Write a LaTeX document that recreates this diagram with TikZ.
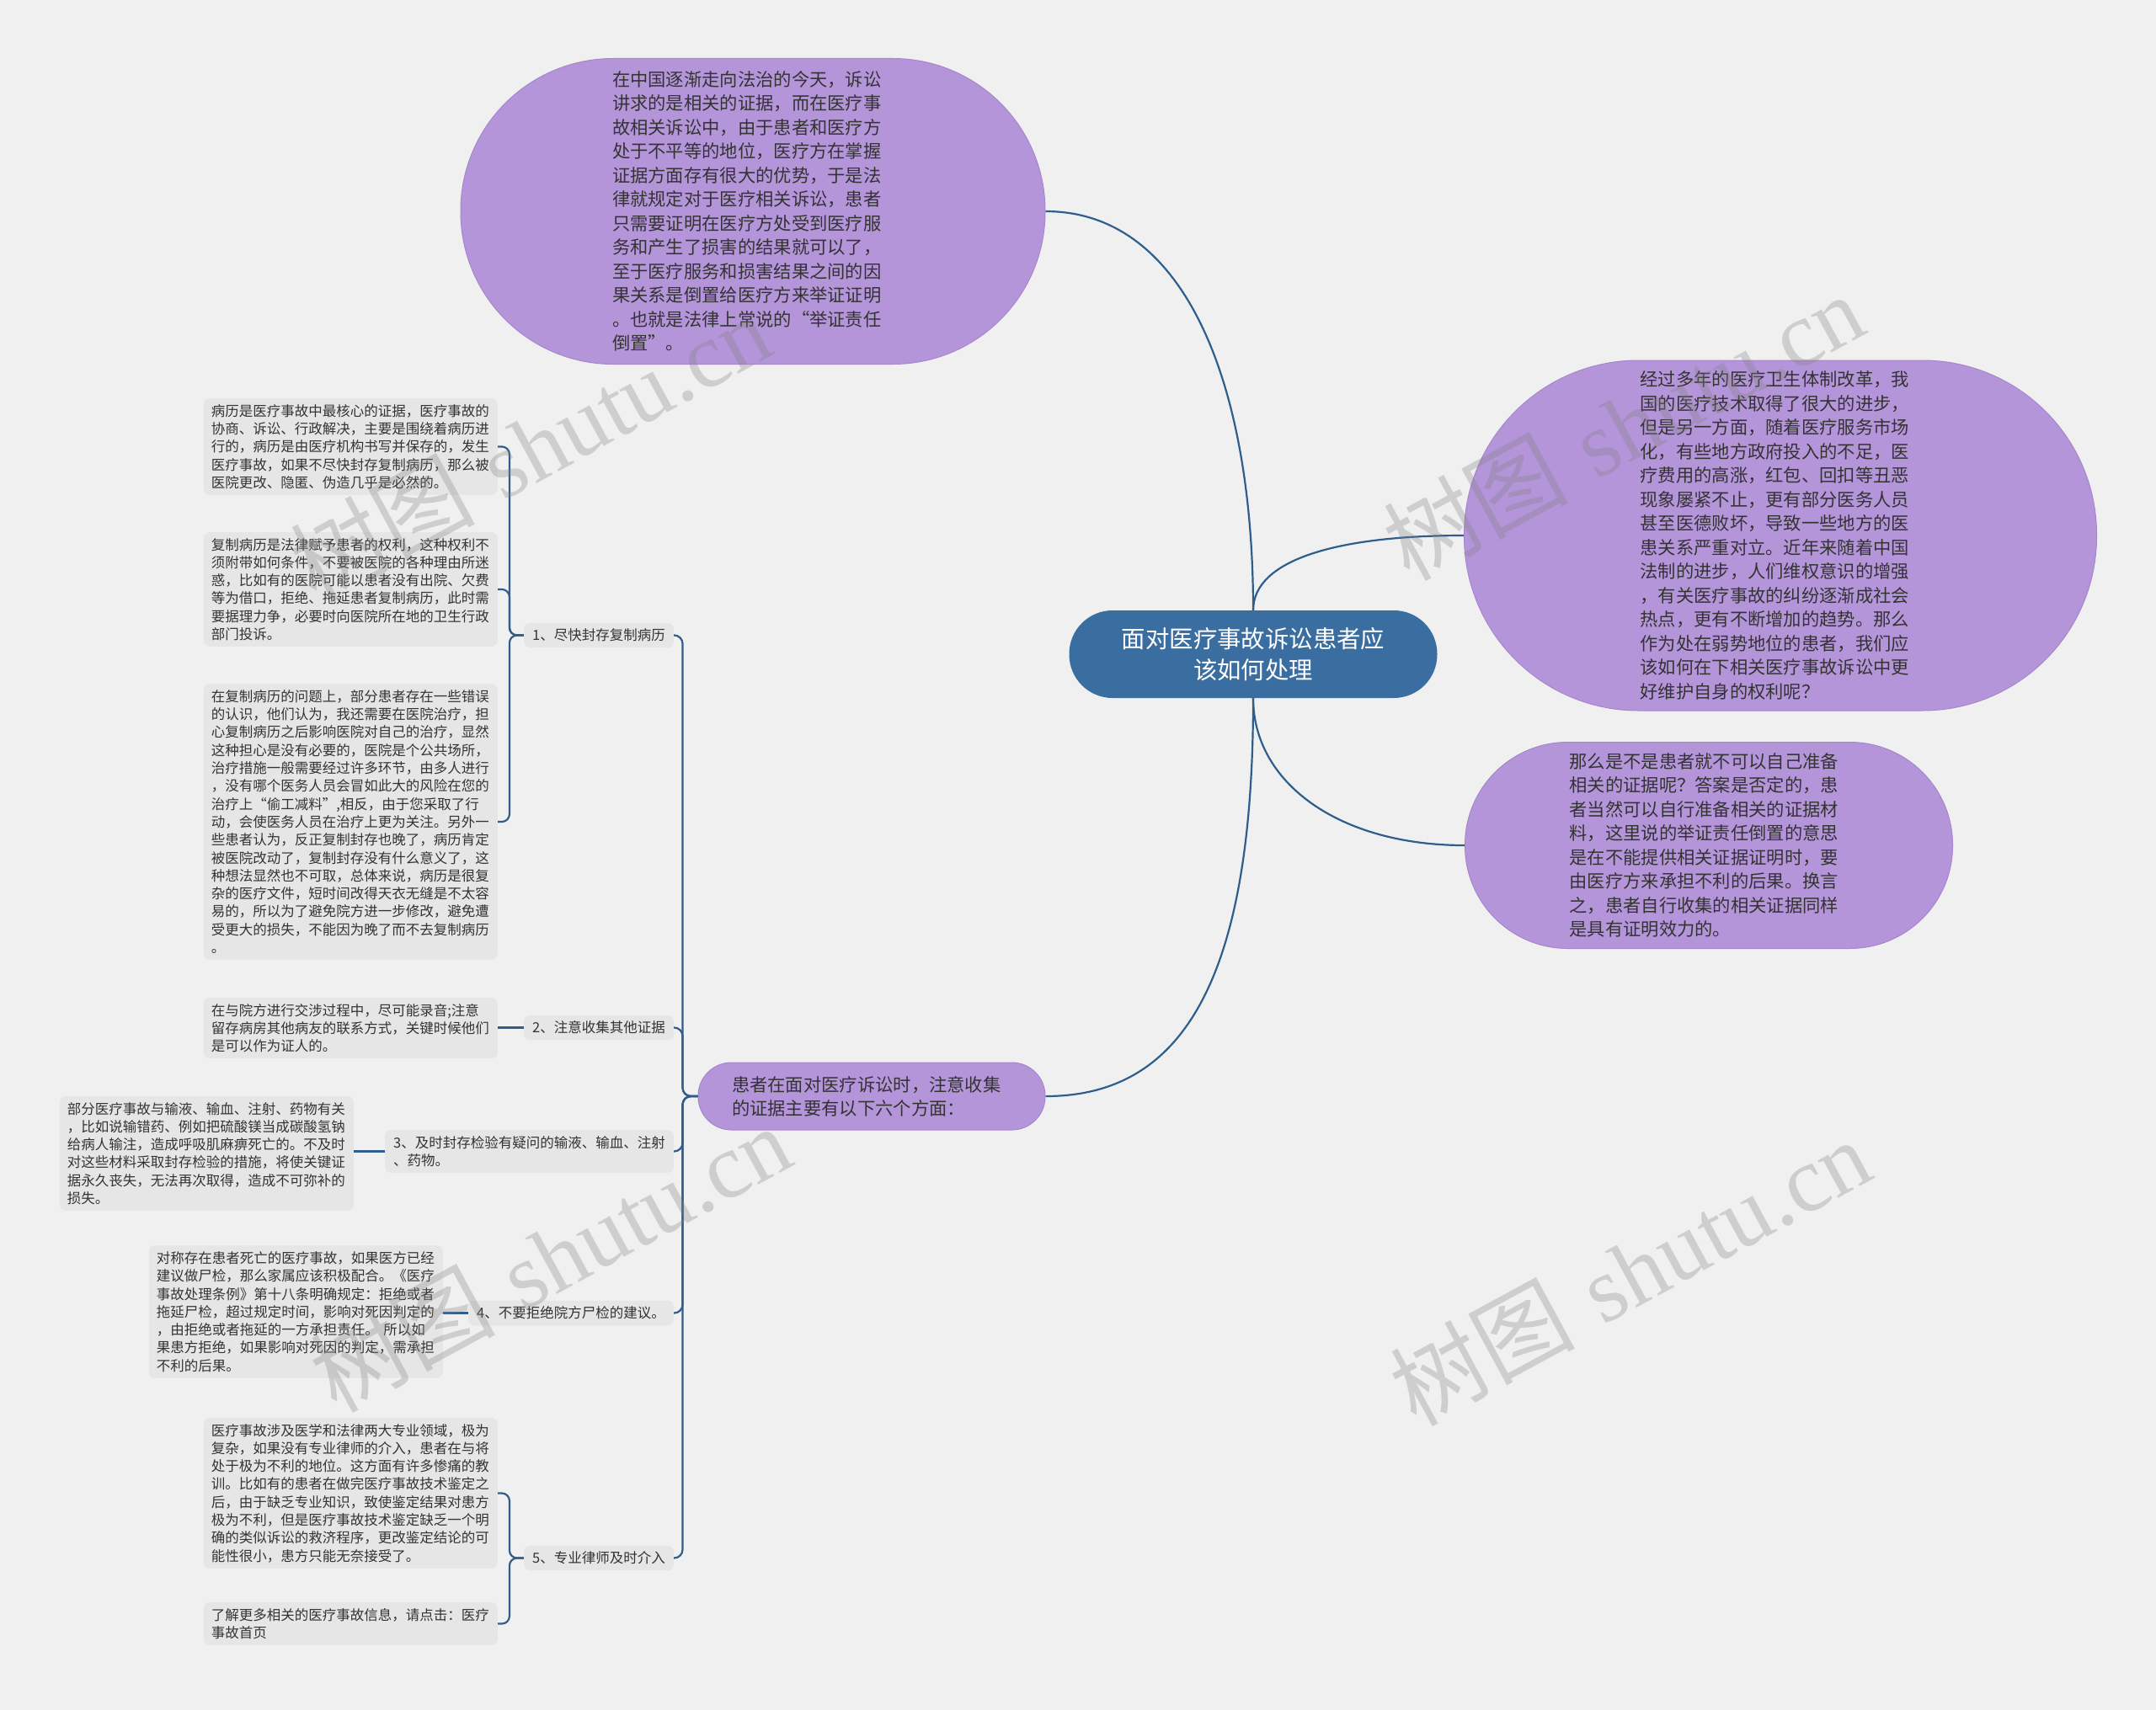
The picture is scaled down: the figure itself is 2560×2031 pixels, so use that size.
\documentclass[tikz,border=0pt]{standalone}
\usepackage{fontspec}
\newfontfamily\cjk{Noto Sans CJK SC}
\newfontfamily\wmserif{Liberation Serif}
\definecolor{bgc}{HTML}{F0F0F0}
\definecolor{purp}{HTML}{B595D9}
\definecolor{purpline}{HTML}{A787CC}
\definecolor{cblue}{HTML}{3B6EA0}
\definecolor{conn}{HTML}{2F5E8C}
\definecolor{leaff}{HTML}{E6E6E6}
\definecolor{txt}{HTML}{333333}
\tikzset{
  bubble/.style={draw=purpline, line width=1pt, fill=purp, align=left, text=txt,
    font=\cjk\fontsize{21.3}{28.5}\selectfont, inner ysep=0pt},
  centerbox/.style={fill=cblue, align=center, text=white,
    font=\cjk\fontsize{28.4}{37}\selectfont, inner sep=0pt,
    minimum width=437pt, minimum height=104pt, rounded corners=51.5pt},
  leaf/.style={fill=leaff, rounded corners=7pt, align=left, text width=331pt,
    inner xsep=9pt, inner ysep=7pt, text=txt,
    font=\cjk\fontsize{16.5}{21.3}\selectfont, anchor=east},
  subbox/.style={fill=leaff, rounded corners=7pt, align=left,
    inner xsep=10pt, inner ysep=7pt, text=txt,
    font=\cjk\fontsize{16.5}{21.3}\selectfont, anchor=east},
  conn/.style={draw=conn, line width=2.2pt},
  wm/.style={text=black!50, text opacity=0.3, inner sep=0pt,
    font=\fontsize{110}{110}\selectfont}
}
\begin{document}
\begin{tikzpicture}[x=1pt,y=-1pt]
\useasboundingbox (0,0) rectangle (2560,2031);
\fill[bgc] (0,0) rectangle (2560,2031);

% central node
\node[centerbox] (c) at (1488,777) {面对医疗事故诉讼患者应\\该如何处理};

% top bubble
\node[bubble, inner xsep=180pt, text width=334pt, minimum height=363pt, rounded corners=181pt] (t) at (894,251) {%
在中国逐渐走向法治的今天，诉讼\\
讲求的是相关的证据，而在医疗事\\
故相关诉讼中，由于患者和医疗方\\
处于不平等的地位，医疗方在掌握\\
证据方面存有很大的优势，于是法\\
律就规定对于医疗相关诉讼，患者\\
只需要证明在医疗方处受到医疗服\\
务和产生了损害的结果就可以了，\\
至于医疗服务和损害结果之间的因\\
果关系是倒置给医疗方来举证证明\\
。也就是法律上常说的“举证责任\\
倒置”。};

% right bubble 1
\node[bubble, inner xsep=209pt, text width=333pt, minimum height=416pt, rounded corners=207pt] (b1) at (2114,636) {%
经过多年的医疗卫生体制改革，我\\
国的医疗技术取得了很大的进步，\\
但是另一方面，随着医疗服务市场\\
化，有些地方政府投入的不足，医\\
疗费用的高涨，红包、回扣等丑恶\\
现象屡紧不止，更有部分医务人员\\
甚至医德败坏，导致一些地方的医\\
患关系严重对立。近年来随着中国\\
法制的进步，人们维权意识的增强\\
，有关医疗事故的纠纷逐渐成社会\\
热点，更有不断增加的趋势。那么\\
作为处在弱势地位的患者，我们应\\
该如何在下相关医疗事故诉讼中更\\
好维护自身的权利呢？};

% right bubble 2
\node[bubble, inner xsep=124pt, text width=331pt, minimum height=245pt, rounded corners=122pt] (b2) at (2029,1004) {%
那么是不是患者就不可以自己准备\\
相关的证据呢？答案是否定的，患\\
者当然可以自行准备相关的证据材\\
料，这里说的举证责任倒置的意思\\
是在不能提供相关证据证明时，要\\
由医疗方来承担不利的后果。换言\\
之，患者自行收集的相关证据同样\\
是具有证明效力的。};

% left branch node
\node[bubble, inner xsep=40pt, text width=332pt, minimum height=80pt, rounded corners=39.5pt,
  font=\cjk\fontsize{21.3}{27.8}\selectfont] (L) at (1035,1302) {%
患者在面对医疗诉讼时，注意收集\\
的证据主要有以下六个方面：};

% sub nodes
\node[subbox] (s1) at (800,754.5) {1、尽快封存复制病历};
\node[subbox] (s2) at (800,1220.5) {2、注意收集其他证据};
\node[subbox] (s3) at (800,1367.5) {3、及时封存检验有疑问的输液、输血、注射\\、药物。};
\node[subbox] (s4) at (800,1559.5) {4、不要拒绝院方尸检的建议。};
\node[subbox] (s5) at (800,1850.5) {5、专业律师及时介入};

% leaves
\node[leaf] (l1a) at (591,530.5) {%
病历是医疗事故中最核心的证据，医疗事故的\\
协商、诉讼、行政解决，主要是围绕着病历进\\
行的，病历是由医疗机构书写并保存的，发生\\
医疗事故，如果不尽快封存复制病历，那么被\\
医院更改、隐匿、伪造几乎是必然的。};
\node[leaf] (l1b) at (591,700) {%
复制病历是法律赋予患者的权利，这种权利不\\
须附带如何条件，不要被医院的各种理由所迷\\
惑，比如有的医院可能以患者没有出院、欠费\\
等为借口，拒绝、拖延患者复制病历，此时需\\
要据理力争，必要时向医院所在地的卫生行政\\
部门投诉。};
\node[leaf] (l1c) at (591,976) {%
在复制病历的问题上，部分患者存在一些错误\\
的认识，他们认为，我还需要在医院治疗，担\\
心复制病历之后影响医院对自己的治疗，显然\\
这种担心是没有必要的，医院是个公共场所，\\
治疗措施一般需要经过许多环节，由多人进行\\
，没有哪个医务人员会冒如此大的风险在您的\\
治疗上“偷工减料”,相反，由于您采取了行\\
动，会使医务人员在治疗上更为关注。另外一\\
些患者认为，反正复制封存也晚了，病历肯定\\
被医院改动了，复制封存没有什么意义了，这\\
种想法显然也不可取，总体来说，病历是很复\\
杂的医疗文件，短时间改得天衣无缝是不太容\\
易的，所以为了避免院方进一步修改，避免遭\\
受更大的损失，不能因为晚了而不去复制病历\\
。};
\node[leaf] (l2a) at (591,1221) {%
在与院方进行交涉过程中，尽可能录音;注意\\
留存病房其他病友的联系方式，关键时候他们\\
是可以作为证人的。};
\node[leaf] (l3a) at (420,1370) {%
部分医疗事故与输液、输血、注射、药物有关\\
，比如说输错药、例如把硫酸镁当成碳酸氢钠\\
给病人输注，造成呼吸肌麻痹死亡的。不及时\\
对这些材料采取封存检验的措施，将使关键证\\
据永久丧失，无法再次取得，造成不可弥补的\\
损失。};
\node[leaf] (l4a) at (526,1558) {%
对称存在患者死亡的医疗事故，如果医方已经\\
建议做尸检，那么家属应该积极配合。《医疗\\
事故处理条例》第十八条明确规定：拒绝或者\\
拖延尸检，超过规定时间，影响对死因判定的\\
，由拒绝或者拖延的一方承担责任。 所以如\\
果患方拒绝，如果影响对死因的判定，需承担\\
不利的后果。};
\node[leaf] (l5a) at (591,1773.5) {%
医疗事故涉及医学和法律两大专业领域，极为\\
复杂，如果没有专业律师的介入，患者在与将\\
处于极为不利的地位。这方面有许多惨痛的教\\
训。比如有的患者在做完医疗事故技术鉴定之\\
后，由于缺乏专业知识，致使鉴定结果对患方\\
极为不利，但是医疗事故技术鉴定缺乏一个明\\
确的类似诉讼的救济程序，更改鉴定结论的可\\
能性很小，患方只能无奈接受了。};
\node[leaf] (l5b) at (591,1928.5) {%
了解更多相关的医疗事故信息，请点击：医疗\\
事故首页};

% connectors from the central node
\draw[conn] (c.north) .. controls +(0,-260) and +(170,0) .. (t.east);
\draw[conn] (c.north) .. controls +(0,-60) and +(-150,0) .. (b1.west);
\draw[conn] (c.south) .. controls +(0,100) and +(-150,0) .. (b2.west);
\draw[conn] (c.south) .. controls +(0,340) and +(160,0) .. (L.east);

% main bracket
\foreach \s in {s1,s2,s3,s4,s5}
  \draw[conn, rounded corners=10pt] (L.west) -- ++(-18,0) |- (\s.east);

% sub 1 bracket
\foreach \l in {l1a,l1b,l1c}
  \draw[conn, rounded corners=9pt] (s1.west) -- ++(-17,0) |- (\l.east);
% sub 5 bracket
\foreach \l in {l5a,l5b}
  \draw[conn, rounded corners=9pt] (s5.west) -- ++(-17,0) |- (\l.east);
% straight ones
\draw[conn] (s2.west) -- (s2.west -| l2a.east);
\draw[conn] (s3.west) -- (s3.west -| l3a.east);
\draw[conn] (s4.west) -- (s4.west -| l4a.east);

% watermarks
\node[wm, rotate=28.5] (w1) at (629,531) {{\cjk 树图} {\wmserif shutu.cn}};
\node[wm, rotate=28.5] (w2) at (1927,506) {{\cjk 树图} {\wmserif shutu.cn}};
\node[wm, rotate=28.5] (w3) at (653,1494) {{\cjk 树图} {\wmserif shutu.cn}};
\node[wm, rotate=28.5] (w4) at (1935,1510) {{\cjk 树图} {\wmserif shutu.cn}};
\end{tikzpicture}
\end{document}
